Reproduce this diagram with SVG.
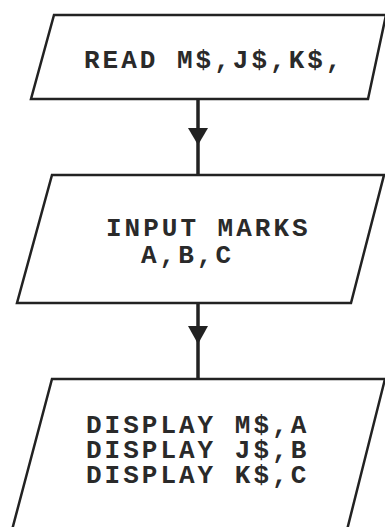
<svg xmlns="http://www.w3.org/2000/svg" width="385" height="527" viewBox="0 0 385 527">
<style>
.box{fill:#fff;stroke:#222;stroke-width:2.5;stroke-linejoin:miter}
.t{font-family:"Liberation Mono","Courier New",monospace;font-weight:bold;font-size:26px;letter-spacing:3px;fill:#2a2a2a}
.c{stroke:#222;stroke-width:3.5;fill:none}
.h{fill:#222;stroke:none}
</style>
<rect width="385" height="527" fill="#fff"/>
<g id="read">
<polygon class="box" points="54,15 386,15 368,99 31,99"/>
<text class="t" x="84" y="68">READ M$,J$,K$,</text>
</g>
<g id="input">
<polygon class="box" points="52,175 384,175 351,303 17,303"/>
<text class="t" x="106" y="236">INPUT MARKS</text>
<text class="t" x="141" y="263">A,B,C</text>
</g>
<g id="display">
<polygon class="box" points="52,379 385,379 347,530 12,530"/>
<text class="t" x="86" y="433">DISPLAY M$,A</text>
<text class="t" x="86" y="458">DISPLAY J$,B</text>
<text class="t" x="86" y="483">DISPLAY K$,C</text>
</g>
<g id="connectors">
<line class="c" x1="198" y1="99" x2="198" y2="175"/>
<polygon class="h" points="188,128 208,128 198,145"/>
<line class="c" x1="198" y1="303" x2="198" y2="379"/>
<polygon class="h" points="188,326 208,326 198,344"/>
</g>
</svg>
